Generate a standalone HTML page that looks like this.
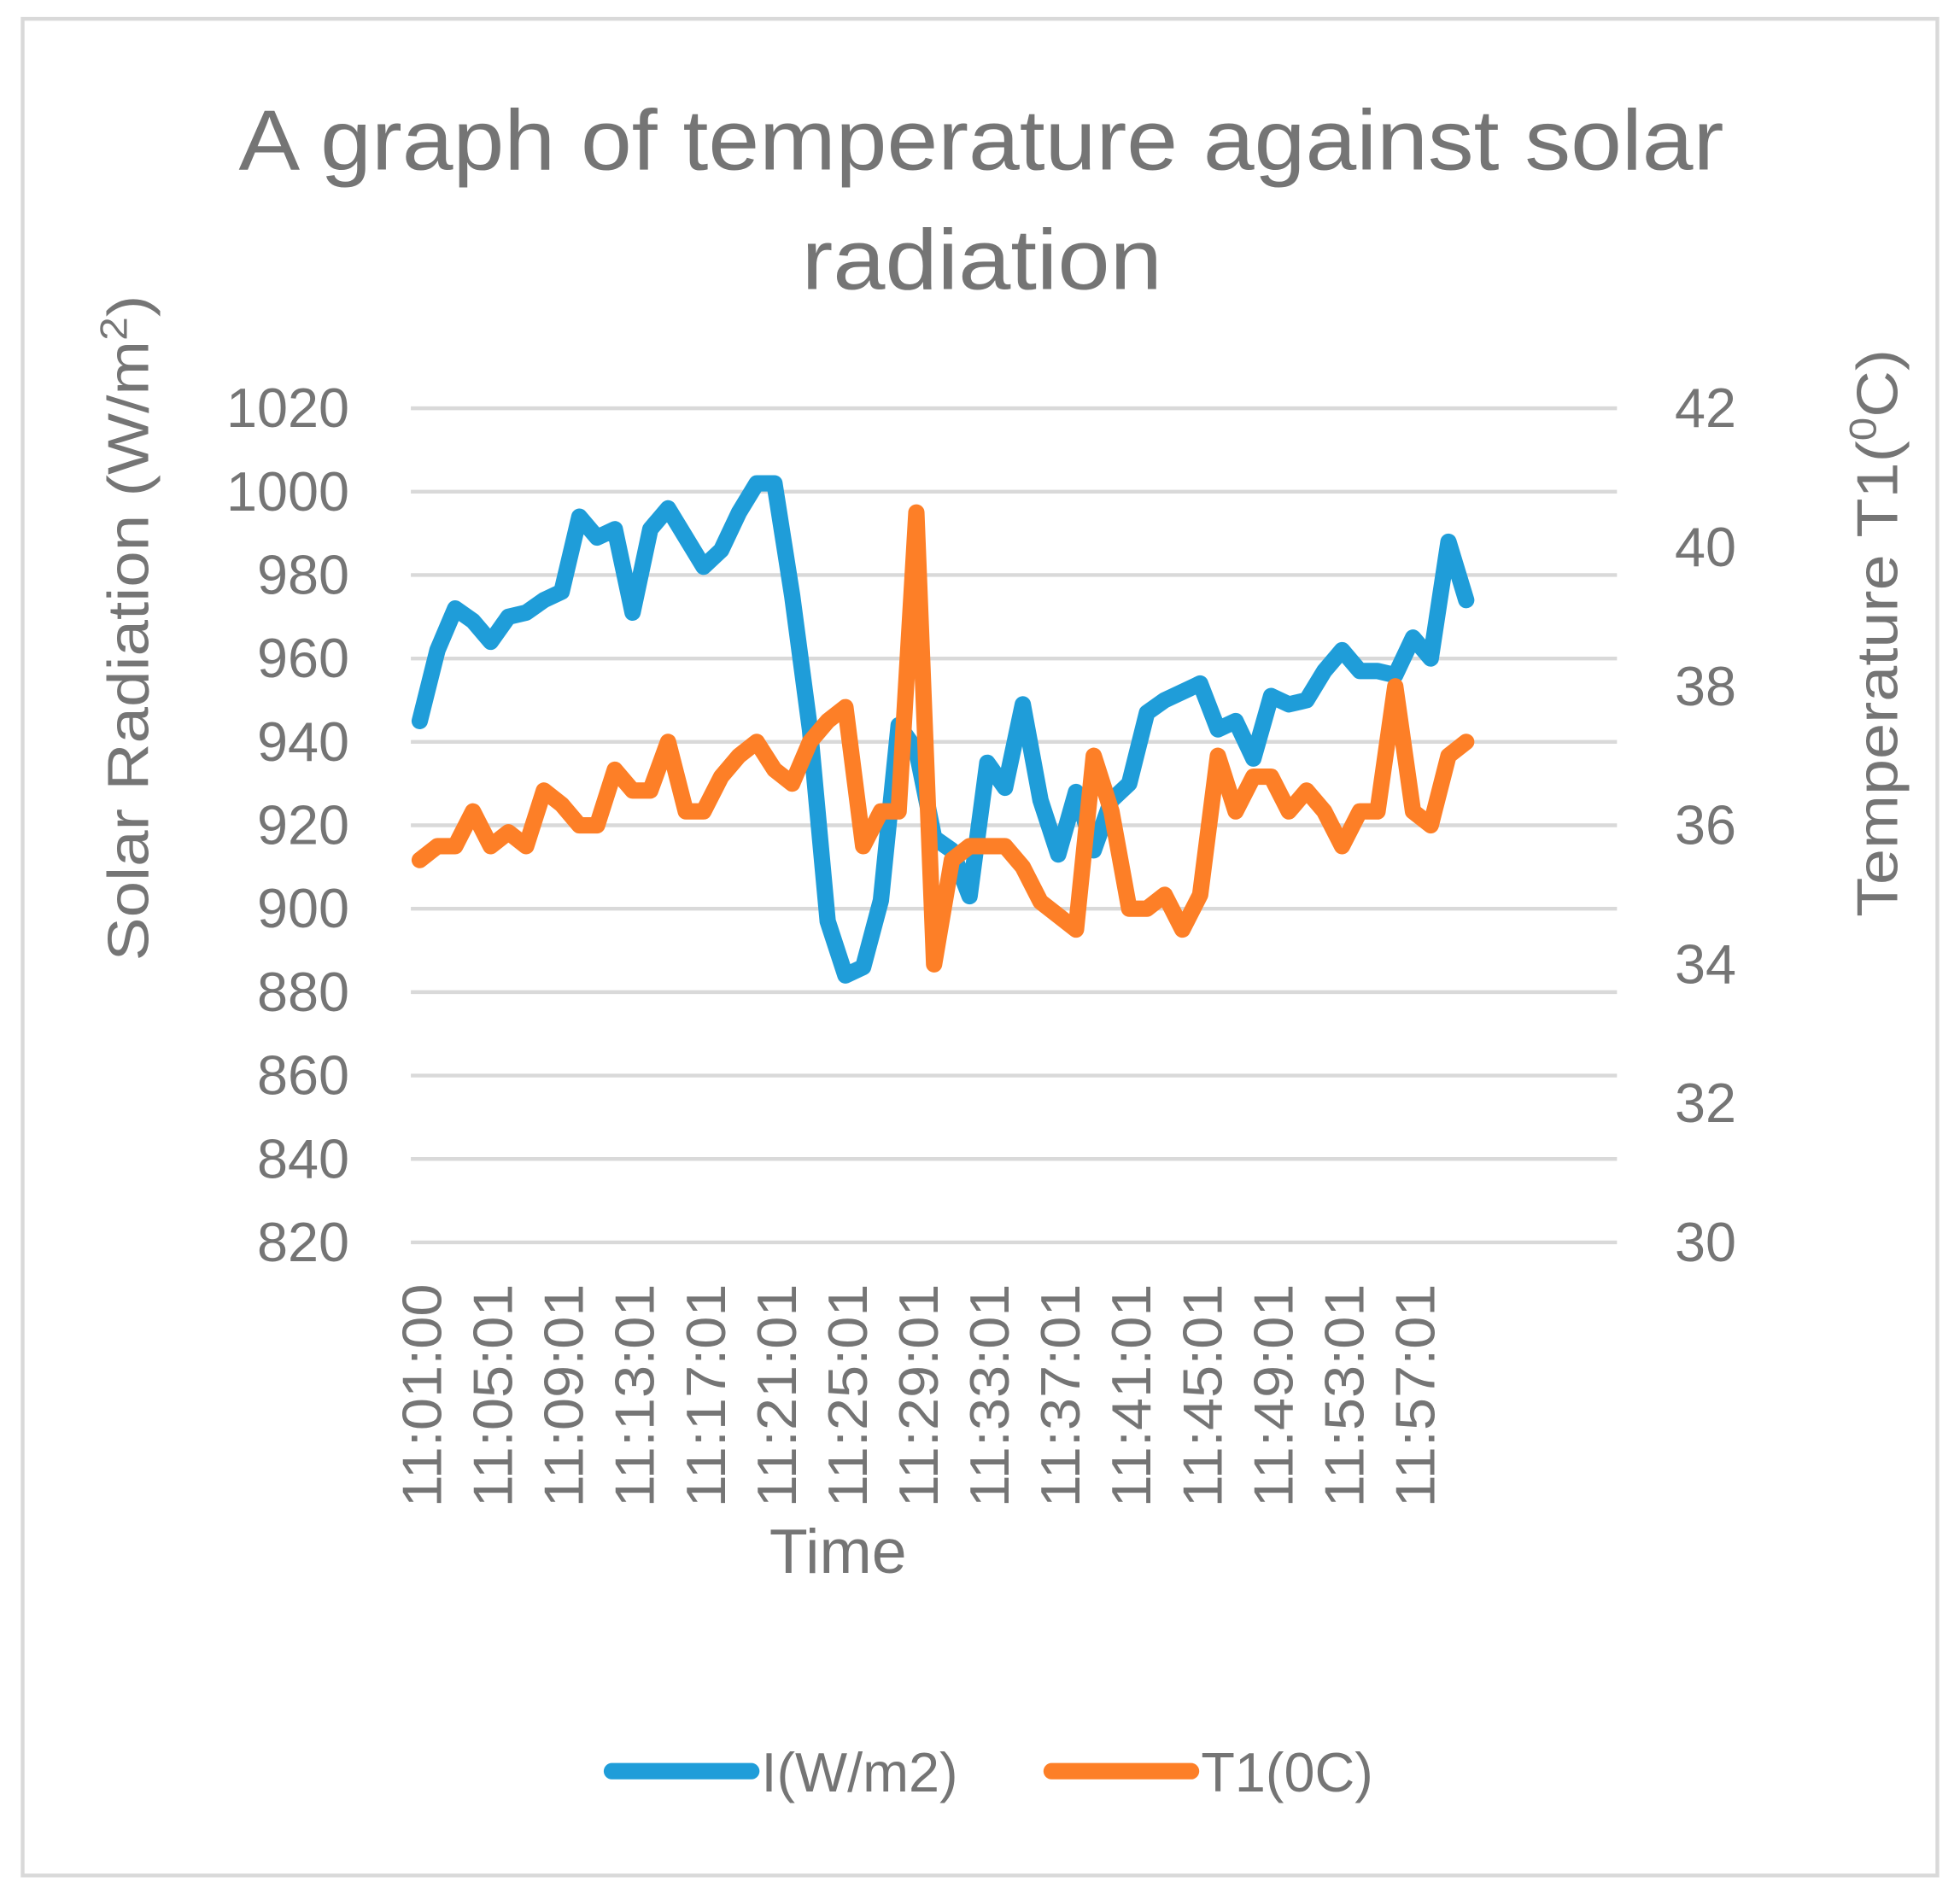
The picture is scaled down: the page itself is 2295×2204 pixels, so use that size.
<!DOCTYPE html>
<html><head><meta charset="utf-8"><style>
html,body{margin:0;padding:0;background:#fff;}
svg{display:block;font-family:"Liberation Sans",sans-serif;}
</style></head><body>
<svg id="chart" width="2295" height="2204" viewBox="0 0 1560 1498.2" xmlns="http://www.w3.org/2000/svg">
<rect x="18" y="15" width="1524" height="1478" fill="#fff" stroke="#d9d9d9" stroke-width="3"/>
<text x="190" y="135" font-size="68" fill="#757575" textLength="1182" lengthAdjust="spacingAndGlyphs">A graph of temperature against solar</text>
<text x="638" y="230" font-size="68" fill="#757575" textLength="287" lengthAdjust="spacingAndGlyphs">radiation</text>
<g id="grid"></g>
<g id="ylabels"></g>
<g id="xlabels"></g>
<g id="series"></g>
<text transform="translate(118,765) rotate(-90)" font-size="46" fill="#757575" textLength="530" lengthAdjust="spacingAndGlyphs">Solar Radiation (W/m<tspan font-size="30" dy="-17">2</tspan><tspan dy="17">)</tspan></text>
<text transform="translate(1510,730) rotate(-90)" font-size="46" fill="#757575" textLength="452" lengthAdjust="spacingAndGlyphs">Temperature T1(<tspan font-size="30" dy="-17">0</tspan><tspan dy="17">C)</tspan></text>
<text x="667" y="1252" font-size="50" fill="#757575" text-anchor="middle">Time</text>
<g>
<line x1="487" y1="1410" x2="598" y2="1410" stroke="#1f9dd9" stroke-width="13" stroke-linecap="round"/>
<text x="606" y="1426" font-size="44" fill="#757575">I(W/m2)</text>
<line x1="837" y1="1410" x2="948" y2="1410" stroke="#fd7f27" stroke-width="13" stroke-linecap="round"/>
<text x="956" y="1426" font-size="44" fill="#757575">T1(0C)</text>
</g>
</svg>
<script>
const radiation = [945,962,972,969,964,970,971,974,976,994,989,991,971,991,996,989,982,986,995,1002,1002,975,943,897,884,886,902,944,938,917,914,903,935,929,949,926,913,928,914,926,930,947,950,952,954,943,945,936,951,949,950,957,962,957,957,956,965,960,988,974];
const temperature = [35.5,35.7,35.7,36.2,35.7,35.9,35.7,36.5,36.3,36.0,36.0,36.8,36.5,36.5,37.2,36.2,36.2,36.7,37.0,37.2,36.8,36.6,37.2,37.5,37.7,35.7,36.2,36.2,40.5,34.0,35.5,35.7,35.7,35.7,35.4,34.9,34.7,34.5,37.0,36.2,34.8,34.8,35.0,34.5,35.0,37.0,36.2,36.7,36.7,36.2,36.5,36.2,35.7,36.2,36.2,38.0,36.2,36.0,37.0,37.2];
const leftTicks = [820,840,860,880,900,920,940,960,980,1000,1020];
const rightTicks = [30,32,34,36,38,40,42];
const timeLabels = ["11:01:00","11:05:01","11:09:01","11:13:01","11:17:01","11:21:01","11:25:01","11:29:01","11:33:01","11:37:01","11:41:01","11:45:01","11:49:01","11:53:01","11:57:01"];
const NS='http://www.w3.org/2000/svg';
const plotL=327, plotR=1287, plotT=325, plotB=989, slots=68, labelStep=4;
const slotW=(plotR-plotL)/slots;
function xPos(i){return plotL+slotW*(i+0.5);}
function yLeft(v){return plotB-(v-820)/(1020-820)*(plotB-plotT);}
function yRight(v){return plotB-(v-30)/(42-30)*(plotB-plotT);}
function mk(tag,attrs,parent){const e=document.createElementNS(NS,tag);for(const k in attrs)e.setAttribute(k,attrs[k]);parent.appendChild(e);return e;}
const grid=document.getElementById('grid'), yl=document.getElementById('ylabels'), xl=document.getElementById('xlabels'), ser=document.getElementById('series');
leftTicks.forEach(v=>{
  const l=mk('line',{x1:plotL,x2:plotR,y1:yLeft(v),y2:yLeft(v),stroke:'#d9d9d9','stroke-width':3},grid);
  
  
  const t=mk('text',{x:278,y:yLeft(v)+15,'font-size':44,fill:'#757575','text-anchor':'end'},yl);
  t.textContent=v;
  
  
});
rightTicks.forEach(v=>{
  const t=mk('text',{x:1333,y:yRight(v)+15,'font-size':44,fill:'#757575','text-anchor':'start'},yl);
  t.textContent=v;
  
  
});
timeLabels.forEach((s,k)=>{
  const x=xPos(k*labelStep)+2;
  const t=mk('text',{transform:'translate('+(x+15)+',1200) rotate(-90)','font-size':44,fill:'#757575','text-anchor':'start',textLength:178,lengthAdjust:'spacingAndGlyphs'},xl);
  t.textContent=s;
  
  
});
const pr=mk('polyline',{points:radiation.map((v,i)=>xPos(i)+','+yLeft(v)).join(' '),fill:'none',stroke:'#1f9dd9','stroke-width':13,'stroke-linejoin':'round','stroke-linecap':'round'},ser);


const pt=mk('polyline',{points:temperature.map((v,i)=>xPos(i)+','+yRight(v)).join(' '),fill:'none',stroke:'#fd7f27','stroke-width':13,'stroke-linejoin':'round','stroke-linecap':'round'},ser);


</script>
</body></html>
